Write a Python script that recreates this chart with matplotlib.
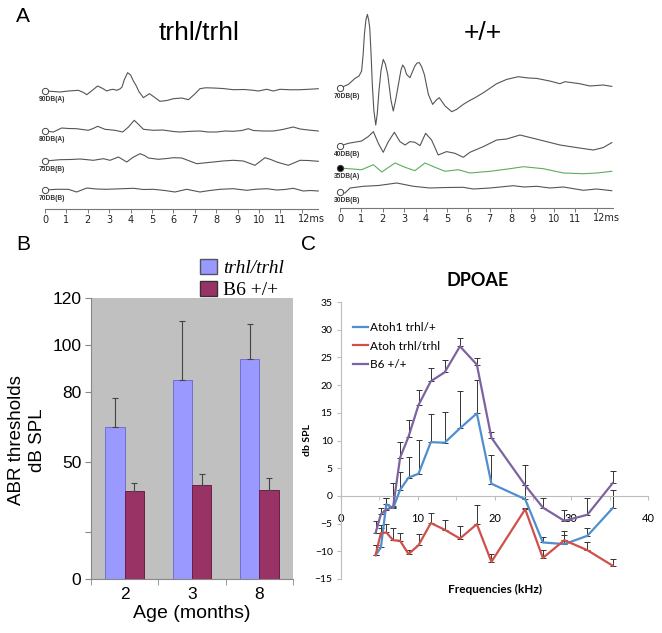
import matplotlib.pyplot as plt
from matplotlib.patches import Patch

# ---- panel A : ABR traces (time in ms, amplitude in screen units) ----
mut_90_t = [0, 0.4, 0.7, 1.1, 1.56, 1.8, 1.95, 2.2, 2.46, 2.7, 2.88, 3.05, 3.19, 3.35, 3.5, 3.6, 3.7, 3.86, 4.0,
            4.13, 4.25, 4.4, 4.6, 4.75, 4.88, 5.1, 5.37, 5.7, 6.0, 6.39, 6.7, 7.0, 7.24, 7.5, 7.87, 8.3, 8.8,
            9.3, 9.74, 9.97, 10.36, 10.67, 10.98, 11.5, 11.92, 12.4, 12.77]
mut_90_a = [0, -0.5, -1.0, 0, 0.7, -1.5, -3.7, 0.5, 5.0, 2.5, 0, 1.2, 1.7, 0.7, 2.0, 4, 11, 18.3, 16,
            10, 5.7, -1, -6.7, -4.5, -2.7, -6, -10.3, -9.5, -7.7, -7, -8.7, -3, 2.3, 3.2, 3, 2.5, 1.3,
            1.5, 0.7, 0, 1.7, 0, 1.7, 1.2, 1.3, 1.8, 2.3]
mut_80_t = [0, 0.39, 0.78, 1.1, 1.48, 2.02, 2.25, 2.46, 2.8, 3.27, 3.63, 3.9, 4.17, 4.4, 4.6, 5.06, 5.5, 6.0,
            6.31, 6.8, 7.24, 7.6, 8.02, 8.4, 8.8, 9.2, 9.5, 9.74, 10.2, 10.67, 11.1, 11.6, 11.92, 12.3, 12.77]
mut_80_a = [0, -1, 3, 2.5, 2.3, 0.7, 2.5, 4.7, 1.7, 0.7, -1, 4, 10.7, 6, 1.7, 0.7, 1, -0.5,
            -1, -0.3, 0, -1, -1, 0, -0.3, 0.5, 2.3, 0.5, 0, 0, 1.5, 4, 2, 1, 0]
mut_75_t = [0, 0.7, 1.2, 1.64, 2.26, 2.73, 3.04, 3.43, 3.82, 4.1, 4.44, 4.65, 4.83, 5.3, 5.7, 6.0, 6.39,
            7.09, 7.5, 7.87, 8.3, 8.8, 9.27, 9.81, 10.05, 10.28, 10.55, 10.83, 11.37, 11.92, 12.3, 12.77]
mut_75_a = [0, 1.3, 1.5, 2, 0.7, 2.3, 0.7, 4, -1, 3.5, 7.3, 5.5, 3, 1.7, 2.5, 3.3, 3,
            -2.7, -1.8, -1, 0, 0.7, 0, -4.3, -0.5, 3.3, 1.5, -1, -4.3, 0.7, 0.5, -0.3]
mut_70_t = [0, 0.55, 1.09, 1.48, 1.95, 2.4, 2.88, 3.5, 4.13, 4.6, 5.06, 5.6, 6.07, 6.62, 7.24, 7.7, 8.18,
            8.8, 9.42, 9.9, 10.36, 10.83, 11.2, 11.6, 12.07, 12.4, 12.77]
mut_70_a = [0, 0.7, 0.7, -2, 2, 1, 0.7, 1.2, 1.7, 0.5, 0.7, -0.5, -2, 0.7, -2, -0.5, 0.7,
            1.3, -0.3, 0.8, 1.3, 0, 0.5, 1.7, -1, -0.5, -1]

wt_70_t = [0, 0.39, 0.70, 0.89, 1.01, 1.08, 1.14, 1.21, 1.28, 1.34, 1.39, 1.45, 1.51, 1.58, 1.67, 1.74, 1.82,
           1.92, 2.02, 2.12, 2.23, 2.38, 2.49, 2.6, 2.73, 2.85, 2.93, 3.02, 3.11, 3.27, 3.4, 3.5, 3.6, 3.71,
           3.82, 3.94, 4.13, 4.33, 4.5, 4.64, 4.91, 5.22, 5.45, 5.76, 6.07, 6.31, 6.7, 7.32,
           7.79, 8.33, 8.8, 9.19, 9.8, 10.28, 10.51, 11.2, 11.68, 12.3, 12.7]
wt_70_a = [0, 3.6, 9.6, 12, 17, 33, 53.6, 68, 73.6, 68, 60, 35, 3.6, -22, -37, -26, -3,
           18, 28.6, 24, 13.6, -12, -23, -12, 3.6, 18, 23, 20, 13.6, 10.3, 17, 22, 25, 25.3,
           21, 13.6, -6.4, -16.4, -12, -9.7, -18, -23.7, -21.4, -16.4, -12.4, -9.7, -4.7, 4.3,
           8.6, 11.3, 10, 9.6, 7, 4.3, 6.3, 4.3, 2, 3, 1.6]
wt_40_t = [0, 0.39, 1.01, 1.32, 1.56, 1.79, 2.02, 2.26, 2.54, 2.8, 3.04, 3.27, 3.5, 3.74, 4.0, 4.28, 4.59,
           4.98, 5.37, 5.76, 6.07, 6.7, 7.32, 7.79, 8.41, 9.35, 10.28, 11.06, 11.84, 12.3, 12.7]
wt_40_a = [0, 2.7, 5, 9.4, 14.4, 2.7, -6.3, 4.4, 13.7, 4.4, 1, 4.4, 3.7, 0.4, 12.7, 6, -9,
           -5.6, -7.3, -11.3, -6.3, -0.6, 6, 7, 11, 6, 1, -1.6, -4, -1.6, 3.4]
wt_35_t = [0, 0.39, 1.01, 1.56, 1.95, 2.57, 3.04, 3.5, 3.97, 4.44, 4.91, 5.53, 6.07, 7.01, 7.94, 8.57,
           9.5, 10.44, 11.37, 12.0, 12.7]
wt_35_a = [0, -0.7, -1.7, 3.3, -4, 5, 0.7, -2.7, 5, 0.7, -3.3, -1.7, -5, -3.3, -0.7, 1.3,
           -0.7, -5, -5.7, -5, -3.3]
wt_30_t = [0, 0.23, 0.47, 1.09, 1.8, 2.65, 3.43, 4.2, 5.0, 5.76, 6.23, 7.01, 8.1, 8.6, 9.19, 9.81,
           10.44, 11.37, 11.99, 12.7]
wt_30_a = [0, -1, 4, 5.7, 6.5, 9, 5.7, 4, 4.5, 4.7, 3, 4, 6.3, 5, 5.7, 4,
           5, 1.7, 3, 1.3]

time_ticks = list(range(13))
time_labels = [str(t) for t in range(12)] + ['']

# ---- panel B : ABR thresholds ----
ages = ['2', '3', '8']
thr_mut = [65, 85, 94]
thr_mut_err = [12.5, 25, 15]
thr_wt = [37.6, 40, 38]
thr_wt_err = [3.5, 5, 5]

# ---- panel C : DPOAE ----
freq = [4.5, 5.2, 5.9, 6.8, 7.7, 8.8, 10.1, 11.7, 13.5, 15.5, 17.7, 19.6, 24.0, 26.3, 29.1, 32.1, 35.4]
dp_het = [-10.7, -9.3, -1.5, -2.2, 1.1, 3.3, 4.0, 9.7, 9.6, 12.2, 14.9, 2.2, -0.6, -8.4, -8.7, -7.2, -2.2]
dp_het_top = [-8.9, -5.8, -0.4, -2.0, 4.4, 7.1, 10.1, 14.8, 15.1, 18.9, 21.0, 7.3, 2.0, -7.5, -6.3, -5.8, 1.1]
dp_mut = [-10.7, -6.7, -6.6, -8.0, -8.1, -10.5, -8.9, -4.9, -6.1, -7.7, -5.1, -11.9, -2.4, -11.2, -8.0, -9.8, -12.6]
dp_mut_top = [-8.9, -5.2, -5.0, -5.8, -6.7, -9.8, -6.9, -3.1, -4.3, -5.5, -1.7, -10.4, -2.1, -9.8, -7.0, -8.3, -11.3]
dp_wt = [-6.7, -3.3, -2.5, -1.9, 6.9, 10.7, 16.4, 20.7, 22.3, 27.0, 23.7, 10.5, 1.9, -2.1, -4.5, -3.4, 2.3]
dp_wt_top = [-4.6, -2.1, -0.4, 2.3, 9.8, 13.7, 19.2, 23.1, 24.6, 28.5, 24.9, 11.6, 5.6, -0.3, -2.5, -0.3, 4.5]

W, H = 662, 633
fig = plt.figure(figsize=(W / 100, H / 100), dpi=100)


def px_axes(l, t, r, b):
    return fig.add_axes([l / W, 1 - b / H, (r - l) / W, (b - t) / H])


def abr_axes(l, t, r, b, x0):
    ax = px_axes(l, t, r, b)
    ax.set_xlim((l - x0) / 21.4, (r - x0) / 21.4)
    ax.set_ylim(0, b - t)
    for s in ['top', 'right', 'left']:
        ax.spines[s].set_visible(False)
    ax.spines['bottom'].set_bounds(0, 12.75)
    ax.spines['bottom'].set_color('#777777')
    ax.spines['bottom'].set_linewidth(0.8)
    ax.set_yticks([])
    ax.set_xticks(time_ticks)
    ax.set_xticklabels(time_labels, fontsize=7, color='#222222')
    ax.tick_params(axis='x', length=3, width=0.7, color='#777777', pad=1)
    # last tick carries the unit
    ax.text(11.8, -5.2, '12ms', fontsize=7, color='#222222', va='top', ha='left')
    ax.patch.set_visible(False)
    return ax


def trace(ax, t, a, base, label, color='#555555', filled=False):
    ax.plot(t, [base + v for v in a], color=color, lw=0.8)
    ax.plot([0], [base], 'o', ms=4.5, mfc='black' if filled else 'white', mec='#444444', mew=0.7)
    ax.text(-0.3, base - 5, label, fontsize=4.8, fontweight='bold', va='top', ha='left',
            family='Liberation Sans', color='#333333')


axL = abr_axes(30, 40, 322, 209, 45)
trace(axL, mut_90_t, mut_90_a, 118, '90DB(A)')
trace(axL, mut_80_t, mut_80_a, 78, '80DB(A)')
trace(axL, mut_75_t, mut_75_a, 48, '75DB(B)')
trace(axL, mut_70_t, mut_70_a, 19, '70DB(B)')

axR = abr_axes(325, 5, 620, 208, 340)
trace(axR, wt_70_t, wt_70_a, 120, '70DB(B)')
trace(axR, wt_40_t, wt_40_a, 62, '40DB(B)')
trace(axR, wt_35_t, wt_35_a, 40, '35DB(A)', color='#5cae5c', filled=True)
trace(axR, wt_30_t, wt_30_a, 16, '30DB(B)')

fig.text(23 / W, 1 - 16 / H, 'A', fontsize=15, ha='center', va='center', family='Liberation Sans')
fig.text(199 / W, 1 - 33 / H, 'trhl/trhl', fontsize=19, ha='center', va='center', family='Liberation Sans')
fig.text(483 / W, 1 - 33 / H, '+/+', fontsize=19, ha='center', va='center', family='Liberation Sans')
fig.text(23 / W, 1 - 244 / H, 'B', fontsize=15, ha='center', va='center', family='Liberation Sans')
fig.text(308 / W, 1 - 244 / H, 'C', fontsize=15, ha='center', va='center', family='Liberation Sans')

# ---- panel B ----
axB = px_axes(91, 298, 293, 579)
axB.set_facecolor('#c0c0c0')
xs = range(len(ages))
bw = 0.285
axB.bar([i - bw / 2 for i in xs], thr_mut, bw, color='#9999ff', edgecolor='#7070d0', lw=0.7)
axB.bar([i + bw / 2 for i in xs], thr_wt, bw, color='#993366', edgecolor='#6a1f45', lw=0.7)
axB.errorbar([i - bw / 2 for i in xs], thr_mut, yerr=[[0] * 3, thr_mut_err], fmt='none',
             ecolor='#444444', elinewidth=0.8, capsize=2, capthick=0.8)
axB.errorbar([i + bw / 2 for i in xs], thr_wt, yerr=[[0] * 3, thr_wt_err], fmt='none',
             ecolor='#444444', elinewidth=0.8, capsize=2, capthick=0.8)
axB.set_xlim(-0.5, 2.5)
axB.set_ylim(0, 120)
axB.set_yticks([0, 20, 50, 80, 100, 120])
axB.set_yticklabels(['0', '', '50', '80', '100', '120'], fontsize=12.5, family='Liberation Sans')
axB.set_xticks(list(xs))
axB.set_xticklabels(ages, fontsize=12.5, family='Liberation Sans')
axB.set_xticks([-0.5, 0.5, 1.5, 2.5], minor=True)
axB.tick_params(axis='x', which='major', length=0, pad=6)
axB.tick_params(axis='x', which='minor', length=4, color='#888888')
axB.tick_params(axis='y', length=4, color='#888888', pad=3)
for s in ['top', 'right']:
    axB.spines[s].set_visible(False)
for s in ['left', 'bottom']:
    axB.spines[s].set_color('#888888')
fig.text(192 / W, 1 - 614 / H, 'Age (months)', fontsize=14, ha='center', va='center',
         family='Liberation Sans')
fig.text(27 / W, 1 - 440 / H, 'ABR thresholds\ndB SPL', rotation=90, fontsize=13.5, ha='center',
         va='center', multialignment='center', family='Liberation Sans', linespacing=1.25)
legB = fig.legend([Patch(facecolor='#9999ff', edgecolor='#555555'), Patch(facecolor='#993366', edgecolor='#333333')],
                  ['trhl/trhl', 'B6 +/+'], loc='upper left', bbox_to_anchor=(183 / W, 1 - 241 / H),
                  frameon=False, prop={'family': 'Liberation Serif', 'size': 14},
                  handlelength=0.85, handleheight=0.85, handletextpad=0.3, labelspacing=0.2)
legB.get_texts()[0].set_style('italic')

# ---- panel C ----
axC = px_axes(341, 302, 648, 579)
c_het, c_mut, c_wt = '#4f8fcf', '#d0504a', '#7e63a0'
for y, top, c, lab in [(dp_het, dp_het_top, c_het, 'Atoh1 trhl/+'),
                       (dp_mut, dp_mut_top, c_mut, 'Atoh trhl/trhl'),
                       (dp_wt, dp_wt_top, c_wt, 'B6 +/+')]:
    axC.plot(freq, y, color=c, lw=1.6, label=lab, zorder=3)
    up = [max(tp - v, 0) for tp, v in zip(top, y)]
    axC.errorbar(freq, y, yerr=[[0] * len(y), up], fmt='none', ecolor='#333333',
                 elinewidth=0.7, capsize=2, capthick=0.7, zorder=2)
axC.set_xlim(0, 40)
axC.set_ylim(-15, 35)
axC.spines['bottom'].set_position(('data', 0))
for s in ['top', 'right']:
    axC.spines[s].set_visible(False)
for s in ['left', 'bottom']:
    axC.spines[s].set_color('#bdbdbd')
axC.set_yticks(range(-15, 36, 5))
axC.set_xticks([0, 10, 20, 30, 40])
axC.set_xticks([5, 15, 25, 35], minor=True)
axC.tick_params(axis='y', length=3, color='#bdbdbd', labelsize=7.5, pad=3)
axC.tick_params(axis='x', which='both', length=3, color='#bdbdbd', labelsize=8, pad=9)
for lab in axC.get_xticklabels() + axC.get_yticklabels():
    lab.set_family('Lato')
axC.set_ylabel('db SPL', fontsize=7.5, fontweight='bold', family='Lato', labelpad=2)
fig.text(495 / W, 1 - 589 / H, 'Frequencies (kHz)', fontsize=8.5, fontweight='bold', family='Lato',
         ha='center', va='center')
fig.text(478 / W, 1 - 281 / H, 'DPOAE', fontsize=13, fontweight='bold', family='Lato',
         ha='center', va='center')
axC.legend(loc='upper left', bbox_to_anchor=(347 / W, 1 - 316 / H), bbox_transform=fig.transFigure,
           frameon=False, prop={'family': 'Lato', 'size': 8.5}, handlelength=1.3, handletextpad=0.15,
           labelspacing=0.65, borderpad=0)

fig.savefig('out.png', dpi=100)
